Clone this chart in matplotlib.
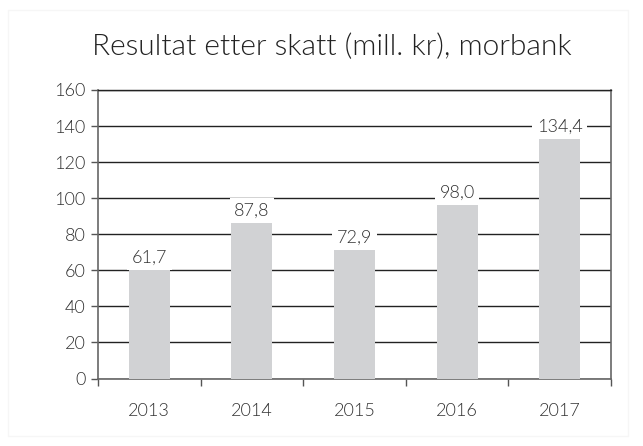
import matplotlib.pyplot as plt
from matplotlib.patches import Rectangle

# chart data
years = ["2013", "2014", "2015", "2016", "2017"]
result = [61.7, 87.8, 72.9, 98.0, 134.4]
labels = ["61,7", "87,8", "72,9", "98,0", "134,4"]
yticks = [0, 20, 40, 60, 80, 100, 120, 140, 160]

plt.rcParams['font.family'] = ['Lato', 'DejaVu Sans']
plt.rcParams['font.weight'] = 300
txt = '#333333'
fw = 300

fig = plt.figure(figsize=(6.43, 4.46), dpi=100)
# faint outer frame
fig.patches.append(Rectangle((8 / 643, 10 / 446), 620 / 643, 426 / 446,
                             transform=fig.transFigure, fill=False,
                             edgecolor='#f6f6f6', linewidth=1))
ax = fig.add_axes([98 / 643, 1 - 378.5 / 446, 513 / 643, 288.5 / 446])

x = range(len(years))
ax.bar(x, result, width=0.4, color='#d1d2d4', zorder=3)

for i, (v, s) in enumerate(zip(result, labels)):
    ax.annotate(s, (i, v), xytext=(0, 1), textcoords='offset points',
                ha='center', va='bottom', fontsize=13, color=txt, zorder=4,
                fontweight=fw,
                bbox=dict(boxstyle='square,pad=0.25', fc='white', ec='none'))

ax.set_ylim(0, 160)
ax.set_xlim(-0.5, 4.5)
ax.set_yticks(yticks)
ax.set_yticklabels([str(t) for t in yticks], fontsize=13, color=txt,
                   fontweight=fw)
ax.set_xticks(list(x))
ax.set_xticklabels(years, fontsize=13, color=txt, fontweight=fw)
ax.set_xticks([i - 0.5 for i in range(len(years) + 1)], minor=True)
ax.tick_params(axis='x', which='major', length=0, pad=18)
ax.tick_params(axis='x', which='minor', length=5, width=1, color='#555555')
ax.tick_params(axis='y', length=5, width=1, color='#555555', pad=4)

ax.grid(axis='y', color='#222222', linewidth=1, zorder=0)
ax.set_axisbelow(True)
for side in ['left', 'bottom', 'right']:
    ax.spines[side].set_color('#666666')
    ax.spines[side].set_linewidth(1.2)
ax.spines['top'].set_color('#222222')
ax.spines['top'].set_linewidth(1)

fig.text(332 / 643, 1 - 47 / 446, "Resultat etter skatt (mill. kr), morbank",
         ha='center', va='center', fontsize=21.5, color='#222222',
         fontweight=fw)

fig.savefig("out.png", dpi=100)
